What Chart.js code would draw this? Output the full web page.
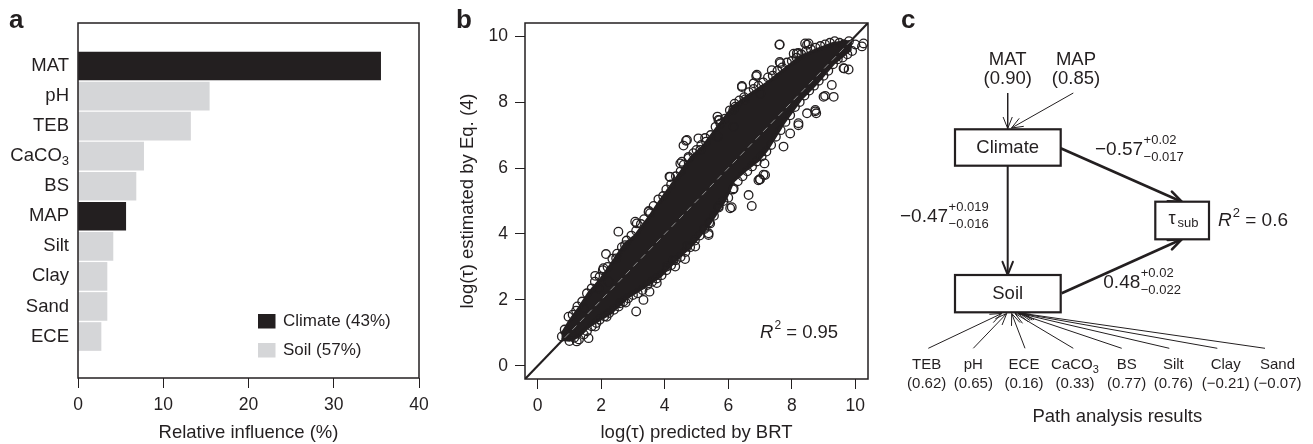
<!DOCTYPE html>
<html lang="en"><head><meta charset="utf-8"><title>Figure</title>
<script src="https://cdn.jsdelivr.net/npm/chart.js@4.4.1/dist/chart.umd.min.js"></script>
<style>
html,body{margin:0;padding:0;background:#ffffff;}
body{width:1313px;height:444px;position:relative;overflow:hidden;}
.panel{position:absolute;top:0;height:444px;}
canvas{display:block;}
</style></head><body>
<div class="panel" style="left:0;width:440px"><canvas id="chartA" width="440" height="444"></canvas></div>
<div class="panel" style="left:440px;width:440px"><canvas id="chartB" width="440" height="444"></canvas></div>
<div class="panel" style="left:880px;width:433px"><canvas id="chartC" width="433" height="444"></canvas></div>
<script>
// ---------------- DATA ----------------
// Panel a: relative influence of predictors (BRT)
const categories = ['MAT','pH','TEB','CaCO3','BS','MAP','Silt','Clay','Sand','ECE'];
const influence = [35.5, 15.4, 13.2, 7.7, 6.8, 5.6, 4.1, 3.4, 3.4, 2.7];
const categoryGroup = ['Climate','Soil','Soil','Soil','Soil','Climate','Soil','Soil','Soil','Soil'];
const groupNames = ['Climate','Soil'];
const groupShare = [43, 57];
const influenceTicks = [0, 10, 20, 30, 40];

// Panel b: log(tau) predicted by BRT (x) vs estimated by Eq. (4) (y)
const brtTicks = [0, 2, 4, 6, 8, 10];
const denseUpperX = [0.75,1.0,1.3,1.6,2.0,2.33,2.75,3.07,3.5,3.8,4.3,4.85,5.2,5.59,6.16,6.7,7.22,7.7,8.27,8.8,9.32,9.84];
const denseUpperY = [0.95,1.35,1.75,2.2,2.65,3.1,3.7,3.95,4.5,4.93,5.6,6.34,6.65,7.15,7.87,8.25,8.58,8.95,9.38,9.6,9.79,9.84];
const denseLowerX = [0.75,1.0,1.3,1.6,2.3,2.86,3.3,3.85,4.4,4.9,5.4,5.9,6.16,6.5,6.95,7.22,7.74,8.27,8.79,9.32,9.84];
const denseLowerY = [0.8,0.78,0.9,1.19,1.6,2.1,2.35,2.71,3.25,3.7,4.3,5.03,5.6,5.9,6.24,6.55,7.36,8.07,8.58,9.18,9.59];
const edgePoints = [
 [0.85,1.1],[1.1,1.55],[1.4,1.95],[1.7,2.35],[1.95,2.7],[2.2,3.0],[2.5,3.4],[2.8,3.8],[3.1,4.1],[3.35,4.45],
 [3.65,4.85],[3.95,5.15],[4.2,5.5],[4.5,5.9],[4.75,6.3],[5.0,6.55],[5.3,6.8],[5.6,7.25],[5.9,7.5],[6.2,7.95],
 [6.5,8.15],[6.8,8.4],[7.1,8.6],[7.4,8.8],[7.7,9.05],[8.0,9.25],[8.3,9.45],[8.6,9.6],[8.9,9.7],[9.2,9.8],
 [9.5,9.8],[9.8,9.85],
 [1.25,1.8],[1.55,2.2],[1.8,2.55],[2.05,2.9],[2.35,3.25],[2.65,3.6],[2.95,3.95],[3.25,4.3],[3.5,4.7],[3.8,5.05],
 [4.05,5.35],[4.35,5.75],[4.6,6.1],[4.9,6.45],[5.15,6.7],[5.45,7.0],[5.75,7.35],[6.05,7.75],[6.35,8.05],[6.65,8.3],
 [6.95,8.5],[7.25,8.75],[7.55,8.95],[7.85,9.2],[8.15,9.35],[8.45,9.55],[8.75,9.65],[9.05,9.75],[9.35,9.85],[9.65,9.75],
 [1.0,0.75],[1.3,0.8],[1.55,1.05],[1.85,1.3],[2.1,1.5],[2.4,1.7],[2.7,1.95],[3.0,2.15],[3.3,2.3],[3.6,2.55],
 [3.9,2.75],[4.2,3.05],[4.5,3.3],[4.8,3.6],[5.1,3.95],[5.4,4.35],[5.7,4.8],[6.0,5.1],[6.3,5.6],[6.6,5.9],
 [6.9,6.2],[7.2,6.5],[7.5,6.95],[7.8,7.4],[8.1,7.85],[8.4,8.2],[8.7,8.5],[9.0,8.8],[9.3,9.15],[9.6,9.35],[9.9,9.55],
 [1.15,0.85],[1.45,0.95],[1.7,1.2],[1.95,1.4],[2.25,1.6],[2.55,1.8],[2.85,2.05],[3.15,2.2],[3.45,2.45],[3.75,2.65],
 [4.05,2.9],[4.35,3.2],[4.65,3.45],[4.95,3.8],[5.25,4.15],[5.55,4.55],[5.85,5.0],[6.15,5.35],[6.45,5.75],[6.75,6.05],
 [7.05,6.35],[7.35,6.7],[7.65,7.15],[7.95,7.6],[8.25,8.0],[8.55,8.35],[8.85,8.65],[9.15,8.95],[9.45,9.3],[9.75,9.45]
];
const outlierPoints = [
 [9.63,9.75],[7.62,9.75],[8.06,9.47],[8.21,9.49],[8.42,9.78],[8.53,9.78],[10.26,9.78],[10.0,9.75],[9.65,9.02],
 [9.32,8.16],[8.74,7.76],[8.77,7.66],[8.48,7.66],[8.21,7.30],[7.95,7.05],[7.37,8.97],[7.62,9.22],[6.88,8.79],
 [6.43,8.46],[6.80,8.57],[7.01,8.26],[6.53,8.08],[6.22,7.86],[5.66,7.56],[5.72,7.45],[6.17,7.25],[5.66,6.95],
 [5.12,6.55],[4.67,6.83],[4.59,6.68],[4.75,6.34],[4.49,6.14],[4.15,5.74],[3.54,4.63],[2.54,4.07],[3.12,4.32],
 [2.15,3.39],[2.47,3.26],[2.07,2.96],[1.81,2.73],[2.23,2.56],[1.91,2.35],[1.44,1.75],[1.21,1.67],[0.97,1.49],
 [0.76,0.89],[1.07,0.99],[1.23,0.74],[1.60,0.84],
 [3.10,1.65],[3.52,2.25],[2.77,1.92],[2.17,1.49],[1.81,1.19],[4.64,3.24],[4.70,3.62],[5.38,4.02],[5.69,4.83],
 [6.06,4.78],[6.74,4.85],[6.64,5.18],[6.99,5.66],[7.14,6.14],[9.0,8.16],[9.79,8.99],[9.26,8.52],[7.74,6.65],
 [6.17,5.38],[5.43,4.32],[4.96,3.62],[4.28,3.21],[4.07,3.01],[3.75,2.51],[3.33,2.0],[2.59,1.90],
 [4.70,6.85],[5.06,6.90],[4.54,6.19],[4.17,5.73],[3.49,4.67],[3.07,4.37],[2.75,3.66],
 [6.11,4.81],[5.38,3.97],[4.33,3.01],[7.16,5.79],[6.95,5.63],
 [7.61,9.74],[6.43,8.49],[6.90,8.83],[7.64,9.18],[8.16,9.48],[8.48,9.74],[5.69,7.46],[6.16,7.77],[5.27,6.91],
 [9.05,8.19],[8.74,7.72],[8.21,7.36],[7.11,5.80],[7.0,5.65],[9.63,9.03],[10.21,9.69]
];
const oneToOne = [-0.4, 10.4];
const fitRange = [0.85, 9.9];
const r2Fit = 0.95;

// Panel c: path analysis
const climateVars = ['MAT','MAP'];
const climateLoadings = [0.90, 0.85];
const soilVars = ['TEB','pH','ECE','CaCO3','BS','Silt','Clay','Sand'];
const soilLoadings = [0.62, 0.65, 0.16, 0.33, 0.77, 0.76, -0.21, -0.07];
const pathNames = ['Climate-tau','Climate-Soil','Soil-tau'];
const pathCoef = [-0.57, -0.47, 0.48];
const pathCIUp = [0.02, 0.019, 0.02];
const pathCILow = [-0.017, -0.016, -0.022];
const r2Tau = 0.6;

// ---------------- STYLE ----------------
const FONT = '"Liberation Sans", Arial, Helvetica, sans-serif';
const INK = '#231f20';
const GRAY = '#d5d6d8';
Chart.defaults.font.family = FONT;
Chart.defaults.color = INK;

function setFont(ctx, size, style) { ctx.font = (style ? style + ' ' : '') + size + 'px ' + FONT; }
function fmt2(v) { return (v < 0 ? '\u2212' : '') + Math.abs(v).toFixed(2); }
function fmtCI(v) { return (v < 0 ? '\u2212' : '+') + String(Math.abs(v)); }

// draws text with a trailing chemical subscript digit (CaCO3)
function drawChem(ctx, text, x, y, size, align) {
  const m = text.match(/^(.*[A-Za-z])(\d)$/);
  const base = m ? m[1] : text, sub = m ? m[2] : '';
  const subSize = Math.round(size * 0.72);
  setFont(ctx, size); const wb = ctx.measureText(base).width;
  setFont(ctx, subSize); const ws = sub ? ctx.measureText(sub).width : 0;
  const total = wb + ws;
  let sx = align === 'right' ? x - total : align === 'center' ? x - total / 2 : x;
  ctx.textAlign = 'left'; ctx.textBaseline = 'middle';
  setFont(ctx, size); ctx.fillText(base, sx, y);
  if (sub) { setFont(ctx, subSize); ctx.fillText(sub, sx + wb, y + size * 0.3); }
}

function frame(chart) {
  const {ctx, chartArea: a} = chart;
  ctx.save();
  ctx.strokeStyle = INK; ctx.lineWidth = 1.5;
  ctx.strokeRect(a.left, a.top, a.right - a.left, a.bottom - a.top);
  ctx.restore();
}
function panelLetter(ctx, letter, x) {
  ctx.save(); setFont(ctx, 26, 'bold'); ctx.fillStyle = INK;
  ctx.textAlign = 'left'; ctx.textBaseline = 'alphabetic';
  ctx.fillText(letter, x, 28); ctx.restore();
}

// ---------------- PANEL A ----------------
const panelAPlugin = {
  id: 'panelA',
  afterDatasetsDraw(chart) {
    const {ctx, chartArea: a, scales: {y}} = chart;
    frame(chart);
    ctx.save();
    ctx.fillStyle = INK;
    categories.forEach((c, i) => drawChem(ctx, c, a.left - 9, y.getPixelForValue(i), 18.5, 'right'));
    // legend
    const lx = a.left + 180, ly = [a.top + 298, a.top + 327];
    groupNames.forEach((g, gi) => {
      ctx.fillStyle = gi === 0 ? INK : GRAY;
      ctx.fillRect(lx, ly[gi] - 7, 17.5, 14.5);
      ctx.fillStyle = INK; setFont(ctx, 17); ctx.textAlign = 'left'; ctx.textBaseline = 'middle';
      ctx.fillText(`${g} (${groupShare[gi]}%)`, lx + 25, ly[gi]);
    });
    ctx.restore();
    panelLetter(ctx, 'a', 9);
  }
};

new Chart(document.getElementById('chartA'), {
  type: 'bar',
  data: {
    datasets: groupNames.map((g, gi) => ({
      label: `${g} (${groupShare[gi]}%)`,
      data: categories.map((c, i) => ({x: influence[i], y: i, g: categoryGroup[i]})).filter(d => d.g === g),
      backgroundColor: gi === 0 ? INK : GRAY,
      borderWidth: 0, barThickness: 28, grouped: false
    }))
  },
  options: {
    indexAxis: 'y', responsive: false, animation: false, events: [],
    layout: {padding: {left: 0, top: 23, right: 21, bottom: 0}},
    plugins: {legend: {display: false}, tooltip: {enabled: false}},
    scales: {
      x: {
        type: 'linear', position: 'bottom', min: influenceTicks[0], max: influenceTicks[influenceTicks.length - 1],
        afterBuildTicks: s => { s.ticks = influenceTicks.map(v => ({value: v})); },
        ticks: {padding: 7, font: {size: 17.5}, color: INK},
        grid: {drawOnChartArea: false, drawTicks: true, tickLength: 10, color: INK, lineWidth: 1},
        border: {display: false},
        title: {display: true, text: 'Relative influence (%)', font: {size: 18.5}, color: INK, padding: {top: 0, bottom: 0}},
        afterFit: s => { s.height = 66; }
      },
      y: {
        type: 'linear', reverse: true, min: -0.84, max: 9.79,
        afterBuildTicks: s => { s.ticks = categories.map((_, i) => ({value: i})); },
        ticks: {display: false}, grid: {display: false}, border: {display: false},
        afterFit: s => { s.width = 78; }
      }
    }
  },
  plugins: [panelAPlugin]
});

// ---------------- PANEL B ----------------
const bandPolygon = denseUpperX.map((x, i) => ({x, y: denseUpperY[i]}))
  .concat(denseLowerX.map((x, i) => ({x, y: denseLowerY[i]})).reverse());

const panelBPlugin = {
  id: 'panelB',
  afterDatasetsDraw(chart) {
    const {ctx, scales: {x, y}} = chart;
    frame(chart);
    ctx.save(); ctx.fillStyle = INK; ctx.textBaseline = 'middle'; ctx.textAlign = 'left';
    let px = x.getPixelForValue(7.0), py = y.getPixelForValue(1.0);
    setFont(ctx, 18.5, 'italic'); ctx.fillText('R', px, py); px += ctx.measureText('R').width + 1;
    setFont(ctx, 12); ctx.fillText('2', px, py - 7); px += ctx.measureText('2').width;
    setFont(ctx, 18.5); ctx.fillText(' = ' + r2Fit.toFixed(2), px, py);
    ctx.restore();
    panelLetter(ctx, 'b', 16);
  }
};

new Chart(document.getElementById('chartB'), {
  type: 'scatter',
  data: {
    datasets: [
      {type: 'line', label: 'fit', data: fitRange.map(v => ({x: v, y: v})), borderColor: '#8f8f8f', borderWidth: 1,
       borderDash: [6, 5], pointRadius: 0, fill: false, order: 0},
      {label: 'points', data: edgePoints.concat(outlierPoints).map(p => ({x: p[0], y: p[1]})),
       pointRadius: 4.3, pointBorderWidth: 1.3, pointBorderColor: INK, pointBackgroundColor: 'rgba(0,0,0,0)', order: 1},
      {type: 'line', label: 'dense', data: bandPolygon, borderColor: INK, borderWidth: 3, backgroundColor: INK,
       pointRadius: 0, fill: 'shape', tension: 0, order: 2},
      {type: 'line', label: '1:1', data: oneToOne.map(v => ({x: v, y: v})), borderColor: INK, borderWidth: 2.2,
       pointRadius: 0, fill: false, order: 3}
    ]
  },
  options: {
    responsive: false, animation: false, events: [],
    layout: {padding: {left: 0, top: 23, right: 12, bottom: 0}},
    plugins: {legend: {display: false}, tooltip: {enabled: false}},
    scales: {
      x: {
        type: 'linear', min: -0.4, max: 10.4,
        afterBuildTicks: s => { s.ticks = brtTicks.map(v => ({value: v})); },
        ticks: {padding: 7, font: {size: 17.5}, color: INK},
        grid: {drawOnChartArea: false, tickLength: 10, color: INK},
        border: {display: false},
        title: {display: true, text: 'log(\u03c4) predicted by BRT', font: {size: 18.5}, color: INK, padding: {top: 0, bottom: 0}},
        afterFit: s => { s.height = 65; }
      },
      y: {
        type: 'linear', min: -0.4, max: 10.4,
        afterBuildTicks: s => { s.ticks = brtTicks.map(v => ({value: v})); },
        ticks: {padding: 7, font: {size: 17.5}, color: INK},
        grid: {drawOnChartArea: false, tickLength: 10, color: INK},
        border: {display: false},
        title: {display: true, text: 'log(\u03c4) estimated by Eq. (4)', font: {size: 18.5}, color: INK, padding: {top: 17, bottom: 0}},
        afterFit: s => { s.width = 85; }
      }
    }
  },
  plugins: [panelBPlugin]
});

// ---------------- PANEL C ----------------
// diagram layout (pixel positions inside panel c)
const layout = {
  climateBox: [75, 129.3, 180.7, 165.7],
  soilBox: [75, 275, 180.7, 312.3],
  tauBox: [275.3, 201.7, 329, 239.3],
  climateVarX: [127.7, 196],
  climateArrows: [[[127.7, 93], [127.7, 128.5]], [[193.3, 93], [131.5, 128]]],
  soilVarX: [46.7, 93.3, 144, 195, 246.7, 293.3, 345.7, 397.5],
  soilArrowFromX: [48.3, 93.3, 145, 193.3, 241.7, 289.3, 337.3, 385],
  soilArrowToX: [121.7, 126.7, 131.7, 135, 138.3, 140, 141.7, 143.3],
  pathArrows: [[[180.7, 148.3], [301.7, 201.7]], [[127.7, 165.7], [127.7, 274.8]], [[181.7, 293.3], [301.7, 239.3]]],
  pathLabel: [[215, 150], [20, 217], [223.3, 283]]
};

const arrowDatasets = [];
layout.climateArrows.forEach((a, i) => arrowDatasets.push({name: climateVars[i], pts: a, w: 1, head: 12}));
layout.pathArrows.forEach((a, i) => arrowDatasets.push({name: pathNames[i], pts: a, w: i === 1 ? 2 : 2.6, head: 14}));
soilVars.forEach((v, i) => arrowDatasets.push({name: v, pts: [[layout.soilArrowFromX[i], 348.3], [layout.soilArrowToX[i], 313.5]], w: 1, head: 12}));

const panelCPlugin = {
  id: 'panelC',
  afterDatasetsDraw(chart) {
    const {ctx, scales: {x, y}} = chart;
    const X = v => x.getPixelForValue(v), Y = v => y.getPixelForValue(v);
    ctx.save();
    ctx.strokeStyle = INK; ctx.fillStyle = INK; ctx.lineCap = 'round'; ctx.lineJoin = 'round';
    // arrow heads
    chart.data.datasets.forEach((ds, di) => {
      const meta = chart.getDatasetMeta(di);
      const p0 = meta.data[0], p1 = meta.data[1];
      const ang = Math.atan2(p1.y - p0.y, p1.x - p0.x), L = ds.headLen, th = 0.38;
      ctx.lineWidth = ds.borderWidth;
      ctx.beginPath();
      ctx.moveTo(p1.x - L * Math.cos(ang - th), p1.y - L * Math.sin(ang - th));
      ctx.lineTo(p1.x, p1.y);
      ctx.lineTo(p1.x - L * Math.cos(ang + th), p1.y - L * Math.sin(ang + th));
      ctx.stroke();
    });
    // boxes
    ctx.lineWidth = 2.2; ctx.lineCap = 'butt'; ctx.lineJoin = 'miter';
    [layout.climateBox, layout.soilBox, layout.tauBox].forEach(b => {
      ctx.fillStyle = '#ffffff';
      ctx.fillRect(X(b[0]), Y(b[1]), X(b[2]) - X(b[0]), Y(b[3]) - Y(b[1]));
      ctx.strokeRect(X(b[0]), Y(b[1]), X(b[2]) - X(b[0]), Y(b[3]) - Y(b[1]));
    });
    ctx.fillStyle = INK; ctx.textBaseline = 'middle'; ctx.textAlign = 'center';
    setFont(ctx, 18.5);
    ctx.fillText('Climate', X(127.7), Y(147.5));
    ctx.fillText('Soil', X(127.7), Y(293.5));
    // tau_sub
    ctx.textAlign = 'left';
    setFont(ctx, 18); ctx.fillText('\u03c4', X(288.5), Y(219));
    setFont(ctx, 13); ctx.fillText('sub', X(297.5), Y(223.5));
    // R2 = 0.6
    let px = X(338);
    setFont(ctx, 19, 'italic'); ctx.fillText('R', px, Y(221)); px += ctx.measureText('R').width + 1;
    setFont(ctx, 13); ctx.fillText('2', px, Y(213)); px += ctx.measureText('2').width;
    setFont(ctx, 19); ctx.fillText(' = ' + r2Tau, px, Y(221));
    // path coefficients
    pathCoef.forEach((c, i) => {
      const [lx, ly] = layout.pathLabel[i];
      setFont(ctx, 19); const t = fmt2(c);
      ctx.fillText(t, X(lx), Y(ly));
      const sx = X(lx) + ctx.measureText(t).width + 0.5;
      setFont(ctx, 13);
      ctx.fillText(fmtCI(pathCIUp[i]), sx, Y(ly - 9.5));
      ctx.fillText(fmtCI(pathCILow[i]), sx, Y(ly + 7));
    });
    // climate variables
    ctx.textAlign = 'center';
    climateVars.forEach((v, i) => {
      setFont(ctx, 18.5);
      ctx.fillText(v, X(layout.climateVarX[i]), Y(60));
      ctx.fillText('(' + fmt2(climateLoadings[i]) + ')', X(layout.climateVarX[i]), Y(79));
    });
    // soil variables
    soilVars.forEach((v, i) => {
      drawChem(ctx, v, X(layout.soilVarX[i]), Y(365), 15, 'center');
      setFont(ctx, 15); ctx.textAlign = 'center';
      ctx.fillText('(' + fmt2(soilLoadings[i]) + ')', X(layout.soilVarX[i]), Y(384));
    });
    setFont(ctx, 18.5); ctx.textAlign = 'center';
    ctx.fillText('Path analysis results', X(237.3), Y(417));
    ctx.restore();
    panelLetter(ctx, 'c', 21);
  }
};

new Chart(document.getElementById('chartC'), {
  type: 'scatter',
  data: {
    datasets: arrowDatasets.map(a => ({
      type: 'line', label: a.name, data: a.pts.map(p => ({x: p[0], y: p[1]})),
      borderColor: INK, borderWidth: a.w, headLen: a.head, pointRadius: 0, fill: false, clip: false
    }))
  },
  options: {
    responsive: false, animation: false, events: [],
    layout: {padding: 0},
    plugins: {legend: {display: false}, tooltip: {enabled: false}},
    scales: {
      x: {type: 'linear', display: false, min: 0, max: 433},
      y: {type: 'linear', display: false, min: 0, max: 444, reverse: true}
    }
  },
  plugins: [panelCPlugin]
});
</script></body></html>
